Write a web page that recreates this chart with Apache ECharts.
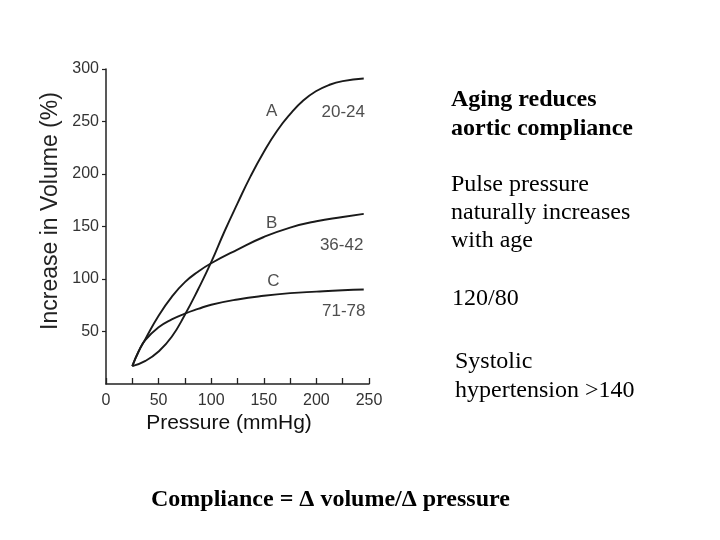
<!DOCTYPE html>
<html>
<head>
    <meta charset="utf-8">
    <script src="https://cdn.jsdelivr.net/npm/echarts@6/dist/echarts.min.js"></script>
    <style>
        html, body { margin: 0; padding: 0; background: #fff; }
    </style>
</head>
<body>
<div id="compliance" style="width: 720px;height:540px;"></div>
<script type="text/javascript">
    // 读图得到的数据 (pressure mmHg -> increase in volume %)
    var pressureA = [25, 37.5, 50, 62.5, 75, 87.5, 100, 112.5, 125, 137.5, 150, 162.5, 175, 187.5, 200, 212.5, 225, 245];
    var volumeA   = [17, 22, 31, 45, 66, 90, 116, 145, 172, 198, 221, 241, 257, 270, 279, 285, 288.5, 291];

    var pressureB = [25, 31, 37.5, 50, 62.5, 75, 87.5, 100, 125, 150, 175, 200, 225, 245];
    var volumeB   = [17, 31, 43, 65, 83, 97, 107, 115, 128, 140, 149, 155, 159, 162];

    var pressureC = [25, 31, 37.5, 50, 62.5, 75, 87.5, 100, 125, 150, 175, 200, 225, 245];
    var volumeC   = [17, 31, 42, 54, 61.5, 67, 71.5, 75.5, 80.5, 84, 86.5, 88, 89.3, 90];

    // curve labels, placed in data units
    var curveLabels = ['A', '20-24', 'B', '36-42', 'C', '71-78'];
    var labelX = [157.5, 225.5, 157.5, 224, 159, 226];
    var labelY = [260, 258.5, 153, 132.5, 97.5, 69.5];

    var xTicks = [0, 50, 100, 150, 200, 250];

    function pairs(xs, ys) {
        var out = [];
        for (var i = 0; i < xs.length; i++) out.push([xs[i], ys[i]]);
        return out;
    }

    var labelData = [];
    for (var i = 0; i < curveLabels.length; i++) {
        labelData.push([labelX[i], labelY[i], curveLabels[i]]);
    }

    var myChart = echarts.init(document.getElementById('compliance'));

    var lineStyle = { color: '#1a1a1a', width: 1.9 };
    var serif = '"Liberation Serif", "Times New Roman", serif';
    var sans = '"Liberation Sans", Arial, sans-serif';

    function curve(name, xs, ys) {
        return {
            name: name, type: 'line', smooth: 0.5,
            showSymbol: false, lineStyle: lineStyle, data: pairs(xs, ys)
        };
    }

    var option = {
        backgroundColor: '#fff',
        animation: false,
        grid: { left: 106, right: 351, top: 69, bottom: 156 },
        xAxis: {
            type: 'value',
            min: 0, max: 250, interval: 25,
            splitLine: { show: false },
            axisLine: { lineStyle: { color: '#222', width: 1.5 } },
            axisTick: { inside: true, length: 6, lineStyle: { color: '#222', width: 1.3 } },
            axisLabel: {
                margin: 9,
                fontFamily: sans, fontSize: 16, color: '#333',
                formatter: function (v) { return xTicks.indexOf(v) >= 0 ? String(v) : ''; }
            }
        },
        yAxis: {
            type: 'value',
            min: 0, max: 300, interval: 50,
            splitLine: { show: false },
            axisLine: { show: true, lineStyle: { color: '#222', width: 1.5 } },
            axisTick: { show: true, length: 4, lineStyle: { color: '#222', width: 1.2 } },
            axisLabel: {
                margin: 7, showMinLabel: false,
                fontFamily: sans, fontSize: 16, color: '#333'
            }
        },
        series: [
            curve('A', pressureA, volumeA),
            curve('B', pressureB, volumeB),
            curve('C', pressureC, volumeC),
            {
                type: 'scatter', symbolSize: 1, itemStyle: { color: 'rgba(0,0,0,0)' },
                label: {
                    show: true, position: 'inside',
                    fontFamily: sans, fontSize: 17, color: '#222',
                    formatter: function (p) { return p.value[2]; }
                },
                data: labelData
            }
        ],
        graphic: [
            // axis titles
            { type: 'text', x: 229, y: 423, style: { text: 'Pressure (mmHg)', font: '21px ' + sans, fill: '#111', textAlign: 'center', textVerticalAlign: 'middle' } },
            { type: 'text', x: 51, y: 211, rotation: Math.PI / 2, style: { text: 'Increase in Volume (%)', font: '23px ' + sans, fill: '#222', textAlign: 'center', textVerticalAlign: 'middle' } },
            // 右侧说明文字
            { type: 'text', x: 451, y: 86, style: { text: 'Aging reduces\naortic compliance', font: 'bold 24px ' + serif, fill: '#000', lineHeight: 28.5, textVerticalAlign: 'top' } },
            { type: 'text', x: 451, y: 171, style: { text: 'Pulse pressure\nnaturally increases\nwith age', font: '24px ' + serif, fill: '#000', lineHeight: 28, textVerticalAlign: 'top' } },
            { type: 'text', x: 452, y: 285, style: { text: '120/80', font: '24px ' + serif, fill: '#000', lineHeight: 28, textVerticalAlign: 'top' } },
            { type: 'text', x: 455, y: 347, style: { text: 'Systolic\nhypertension >140', font: '24px ' + serif, fill: '#000', lineHeight: 29, textVerticalAlign: 'top' } },
            { type: 'text', x: 151, y: 500, style: { text: 'Compliance = \u0394 volume/\u0394 pressure', font: 'bold 24px ' + serif, fill: '#000', textVerticalAlign: 'middle' } }
        ]
    };

    myChart.setOption(option);
</script>
</body>
</html>
